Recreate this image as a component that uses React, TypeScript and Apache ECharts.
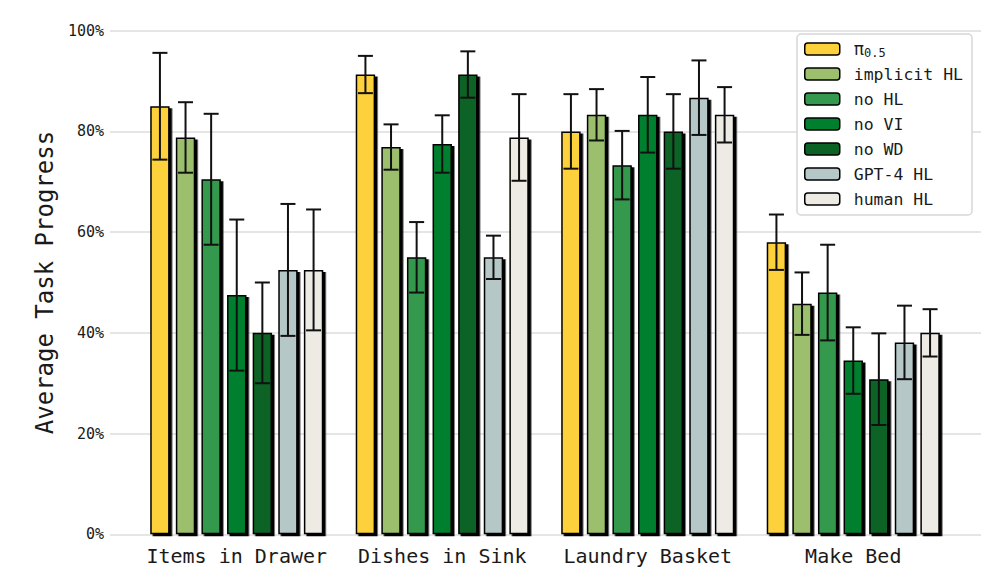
import React, { useEffect, useRef } from "react";
import * as echarts from "echarts";

const categories = ["Items in Drawer", "Dishes in Sink", "Laundry Basket", "Make Bed"];
const seriesNames = ["π0.5", "implicit HL", "no HL", "no VI", "no WD", "GPT-4 HL", "human HL"];
const seriesColors = ["#FDD13B", "#9CBF6E", "#34994E", "#00802F", "#0A6225", "#B6C7C7", "#EDEBE3"];

const pi05 = [85, 91.3, 80, 58];
const implicitHL = [78.8, 76.9, 83.3, 45.8];
const noHL = [70.5, 55, 73.3, 48];
const noVI = [47.5, 77.5, 83.3, 34.5];
const noWD = [40, 91.3, 80, 30.8];
const gpt4HL = [52.5, 55, 86.7, 38.1];
const humanHL = [52.5, 78.8, 83.3, 40];

const pi05Err = [10.6, 3.7, 7.4, 5.5];
const implicitHLErr = [7, 4.5, 5.1, 6.2];
const noHLErr = [13, 7, 6.8, 9.5];
const noVIErr = [15, 5.7, 7.5, 6.6];
const noWDErr = [10, 4.6, 7.4, 9.1];
const gpt4HLErr = [13.1, 4.3, 7.4, 7.3];
const humanHLErr = [12, 8.6, 5.5, 4.7];

const yTicks = [0, 20, 40, 60, 80, 100];

const allValues = [pi05, implicitHL, noHL, noVI, noWD, gpt4HL, humanHL];
const allErrs = [pi05Err, implicitHLErr, noHLErr, noVIErr, noWDErr, gpt4HLErr, humanHLErr];

const FONT = "'DejaVu Sans Mono', 'Liberation Mono', monospace";
const BAR_W = 19.4;
const BAR_GAP = 0.32;
const PITCH = BAR_W * (1 + BAR_GAP);
const CAP = 7.5;

export default function App() {
  const ref = useRef<HTMLDivElement>(null);
  useEffect(() => {
    if (!ref.current) return;
    const chart = echarts.init(ref.current, null, { renderer: "svg" });

    const errData: number[][] = [];
    allValues.forEach((vals, s) => {
      vals.forEach((v, c) => {
        errData.push([c, s, v - allErrs[s][c], v + allErrs[s][c]]);
      });
    });

    const barSeries = seriesNames.map((name, i) => ({
      name,
      type: "bar",
      xAxisIndex: 1,
      yAxisIndex: 1,
      data: allValues[i],
      barWidth: BAR_W,
      barGap: `${BAR_GAP * 100}%`,
      itemStyle: {
        color: seriesColors[i],
        borderColor: "#000",
        borderWidth: 1.5,
        shadowColor: "#000",
        shadowBlur: 0,
        shadowOffsetX: 2.5,
        shadowOffsetY: 2,
      },
      z: 2,
    }));

    const option: any = {
      animation: false,
      backgroundColor: "#fff",
      textStyle: { fontFamily: FONT },
      grid: [
        { left: 110, right: 19, top: 30.7, bottom: 46.7 },
        { left: 134, right: 44, top: 30.7, bottom: 46.7 },
      ],
      xAxis: [
        { type: "category", gridIndex: 0, data: categories, show: false },
        {
          type: "category",
          gridIndex: 1,
          data: categories,
          axisLine: { show: false },
          axisTick: { show: false },
          axisLabel: { interval: 0, color: "#1a1a1a", fontSize: 20, fontFamily: FONT, margin: 12 },
        },
      ],
      yAxis: [
        {
          type: "value",
          gridIndex: 0,
          min: yTicks[0],
          max: yTicks[yTicks.length - 1],
          interval: 20,
          axisLine: { show: false },
          axisTick: { show: false },
          axisLabel: { formatter: "{value}%", color: "#1a1a1a", fontSize: 15, fontFamily: FONT, margin: 6 },
          splitLine: { lineStyle: { color: "#dcdcdc", width: 1.5 } },
          name: "Average Task Progress",
          nameLocation: "middle",
          nameGap: 52,
          nameTextStyle: { fontSize: 24, color: "#1a1a1a", fontFamily: FONT },
        },
        { type: "value", gridIndex: 1, min: 0, max: 100, show: false },
      ],
      legend: {
        data: seriesNames,
        orient: "vertical",
        left: 797,
        top: 34,
        itemWidth: 35,
        itemHeight: 12,
        itemGap: 5,
        padding: [5, 9, 6, 7],
        backgroundColor: "#fff",
        borderColor: "#d6d6d6",
        borderWidth: 1.5,
        borderRadius: 4,
        itemStyle: { shadowBlur: 0, shadowOffsetX: 0, shadowOffsetY: 0, shadowColor: "rgba(0,0,0,0)", borderWidth: 1.5 },
        formatter: (name: string) => (name === "π0.5" ? "{a|π}{b|0.5}" : name),
        textStyle: {
          fontFamily: FONT,
          fontSize: 16.5,
          color: "#1a1a1a",
          lineHeight: 20,
          padding: [0, 0, 0, 9],
          rich: {
            a: { fontSize: 17, fontFamily: FONT, color: "#1a1a1a" },
            b: { fontSize: 12, fontFamily: FONT, color: "#1a1a1a", padding: [7, 0, 0, 0] },
          },
        },
      },
      series: [
        ...barSeries,
        {
          type: "custom",
          xAxisIndex: 1,
          yAxisIndex: 1,
          data: errData,
          encode: { x: 0, y: [2, 3] },
          z: 10,
          silent: true,
          renderItem: (params: any, api: any) => {
            const c = api.value(0);
            const s = api.value(1);
            const lo = api.value(2);
            const hi = api.value(3);
            const cx = api.coord([c, 0])[0] + (s - 3) * PITCH;
            const yLo = api.coord([c, lo])[1];
            const yHi = api.coord([c, hi])[1];
            const st = { stroke: "#111", lineWidth: 2 };
            return {
              type: "group",
              children: [
                { type: "line", shape: { x1: cx, y1: yLo, x2: cx, y2: yHi }, style: st },
                { type: "line", shape: { x1: cx - CAP, y1: yLo, x2: cx + CAP, y2: yLo }, style: st },
                { type: "line", shape: { x1: cx - CAP, y1: yHi, x2: cx + CAP, y2: yHi }, style: st },
              ],
            };
          },
        },
      ],
    };
    chart.setOption(option);
    return () => chart.dispose();
  }, []);
  return <div ref={ref} style={{ position: "absolute", left: 0, top: 0, width: 1000, height: 581 }} />;
}
